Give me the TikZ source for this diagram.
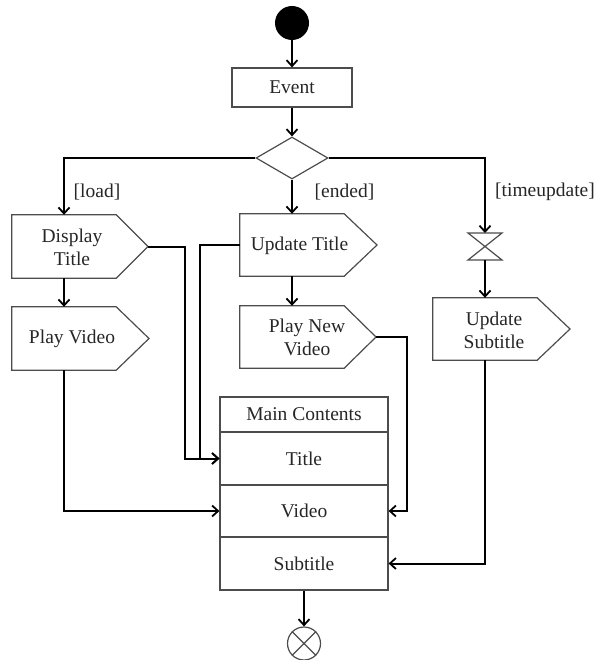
\documentclass[tikz,border=0pt]{standalone}
\usepackage{fontspec}
\setmainfont{Liberation Serif}
\usetikzlibrary{arrows.meta,shapes.geometric}
\begin{document}
\begin{tikzpicture}[x=1pt,y=-1pt,
  every node/.style={font=\fontsize{19.5}{23}\selectfont, text=black!85},
  shp/.style={draw=black!70, line width=1.2pt},
  box/.style={shp, inner sep=0pt, minimum width=#1},
  part/.style={inner sep=0pt, minimum width=104pt},
  conn/.style={draw=black, line width=2pt, -{Straight Barb[length=6pt,width=11pt,line width=1.8pt]}},
  lbl/.style={inner sep=0pt}
]
\useasboundingbox (0,0) rectangle (600,660);

% start / event / decision
\node[circle, fill=black, minimum size=34pt, inner sep=0pt] (start) at (292,23) {};
\node[box=120pt, minimum height=39pt] (event) at (292,87.5) {Event};
\node[diamond, shp, minimum width=72pt, minimum height=42pt, inner sep=0pt] (dec) at (292,158) {};

% Display Title
\node[part, minimum height=63pt] (dt) at (64,246.5) {};
\coordinate (dttip) at (148,246.5);
\draw[shp] (dt.north west) -- (dt.north east) -- (dttip) -- (dt.south east) -- (dt.south west) -- cycle;
\node[align=center] (dtl) at (72,247) {Display\\Title};

% Play Video
\node[part, minimum height=63pt] (pv) at (64,338.5) {};
\coordinate (pvtip) at (149,338.5);
\draw[shp] (pv.north west) -- (pv.north east) -- (pvtip) -- (pv.south east) -- (pv.south west) -- cycle;
\node (pvl) at (72,339) {Play Video};

% Update Title
\node[part, minimum height=62pt] (ut) at (292,245) {};
\coordinate (uttip) at (377,245);
\draw[shp] (ut.north west) -- (ut.north east) -- (uttip) -- (ut.south east) -- (ut.south west) -- cycle;
\node (utl) at (299.5,246) {Update Title};

% Play New Video
\node[part, minimum height=62pt] (pnv) at (292,337) {};
\coordinate (pnvtip) at (376,337);
\draw[shp] (pnv.north west) -- (pnv.north east) -- (pnvtip) -- (pnv.south east) -- (pnv.south west) -- cycle;
\node[align=center] (pnvl) at (307,337) {Play New\\Video};

% hourglass
\coordinate (hgT) at (485,233);
\coordinate (hgB) at (485,260);
\draw[shp] (468,233) -- (502,233) -- (468,260) -- (502,260) -- cycle;

% Update Subtitle
\node[part, minimum height=62pt] (us) at (485,329) {};
\coordinate (ustip) at (570,329);
\draw[shp] (us.north west) -- (us.north east) -- (ustip) -- (us.south east) -- (us.south west) -- cycle;
\node[align=center] (usl) at (494,330) {Update\\Subtitle};

% Main contents
\node[box=168pt, minimum height=35pt] (mc) at (304,414.5) {Main Contents};
\node[box=168pt, minimum height=53pt] (title) at (304,458.5) {Title};
\node[box=168pt, minimum height=52pt] (video) at (304,511) {Video};
\node[box=168pt, minimum height=53pt] (subtitle) at (304,563.5) {Subtitle};

% end
\node[circle, shp, minimum size=33pt, inner sep=0pt] (end) at (304,643.5) {};
\draw[shp] (end.north west) -- (end.south east) (end.north east) -- (end.south west);

% junction coordinates
\coordinate (j1) at (185,0);
\coordinate (j2) at (200,0);
\coordinate (j3) at (407,0);

% connectors
\draw[conn] (start) -- (event);
\draw[conn] (event) -- (dec);
\draw[conn] (dec.west) -| (dt.north);
\draw[conn] (dec.south) -- (ut.north);
\draw[conn] (dec.east) -| (hgT);
\draw[conn] (hgB) -- (us.north);
\draw[conn] (dt.south) -- (pv.north);
\draw[conn] (ut.south) -- (pnv.north);
\draw[conn] (dttip) -- (dttip -| j1) |- (title.west);
\draw[conn] (ut.west) -- (ut.west -| j2) |- (title.west);
\draw[conn] (pv.south) |- (video.west);
\draw[conn] (pnvtip) -- (pnvtip -| j3) |- (video.east);
\draw[conn] (us.south) |- (subtitle.east);
\draw[conn] (subtitle.south) -- (end.north);

% labels
\node[lbl] (l1) at (97,192) {[load]};
\node[lbl] (l2) at (344.5,192) {[ended]};
\node[lbl] (l3) at (545,192) {[timeupdate]};
\end{tikzpicture}
\end{document}
